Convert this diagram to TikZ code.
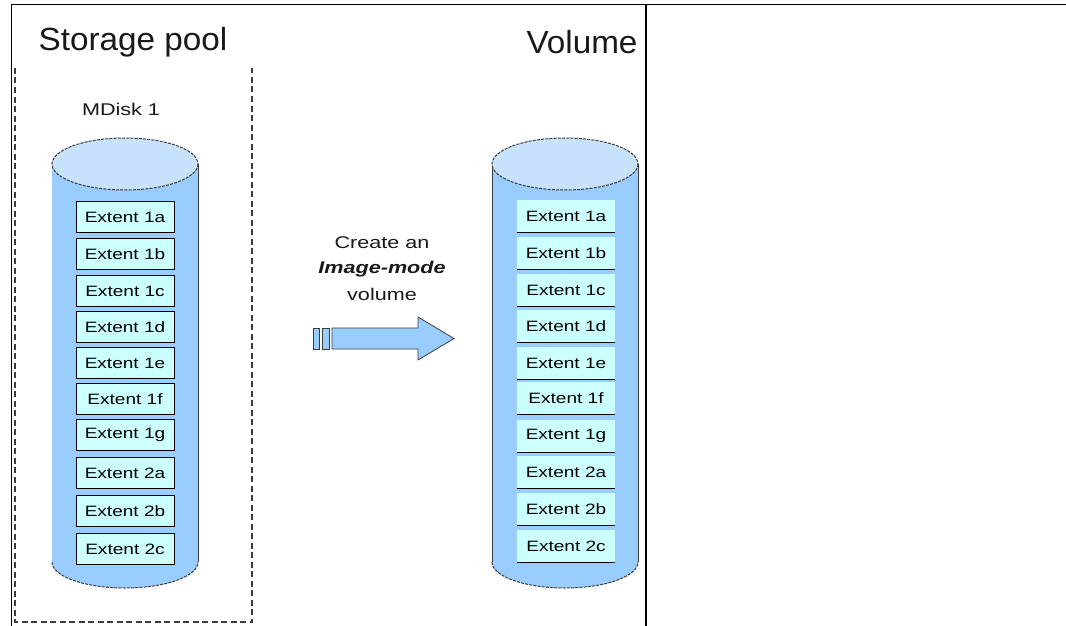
\documentclass[tikz,border=0pt]{standalone}
\usepackage{fontspec}
\setmainfont{Liberation Sans}
\definecolor{cylblue}{RGB}{153,204,255}
\definecolor{cyltop}{RGB}{200,226,252}
\definecolor{extcyan}{RGB}{204,255,255}
\definecolor{inkgray}{RGB}{60,60,60}
\newcommand\widetext[1]{\scalebox{1.27}[1]{#1}}
% cylinder: centre x, y of top rim, y of bottom rim, draw left side (1/0)
\newcommand\drawcylinder[4]{%
  \fill[cylblue] ({#1-73},#2) -- ({#1-73},#3)
     arc[start angle=180,end angle=0,x radius=73,y radius=26] -- ({#1+73},#2) -- cycle;
  \draw[cylside] ({#1+73},#2) -- ({#1+73},#3);
  \ifnum#4=1 \draw[cylside] ({#1-73},#2) -- ({#1-73},#3);\fi
  \draw[cylrim] ({#1-73},#3) arc[start angle=180,end angle=0,x radius=73,y radius=26];
  \filldraw[cylrim,fill=cyltop] (#1,#2) ellipse[x radius=73,y radius=26];
}
\tikzset{
  frame/.style={line width=1.3pt,black},
  pool/.style={line width=1.2pt,inkgray,dash pattern=on 6pt off 3.5pt},
  cylside/.style={line width=0.9pt,inkgray},
  cylrim/.style={line width=1pt,inkgray,dash pattern=on 3pt off 1.2pt},
  heading/.style={font=\fontsize{32}{32}\selectfont,text=black!90,inner sep=0pt},
  smalltext/.style={font=\fontsize{17}{17}\selectfont,text=black!90,inner sep=0pt},
  extL/.style={draw=black,line width=0.9pt,fill=extcyan,minimum width=98pt,
    minimum height=31pt,inner sep=0pt,font=\fontsize{15}{15}\selectfont},
  extR/.style={fill=extcyan,minimum width=98pt,minimum height=32pt,inner sep=0pt,
    font=\fontsize{15}{15}\selectfont},
  sepline/.style={line width=1pt,black},
  bigarrow/.style={fill=cylblue,draw=inkgray,line width=0.8pt,line join=miter},
}
\begin{document}
\begin{tikzpicture}[x=1pt,y=-1pt]
\useasboundingbox (0,0) rectangle (1066,626);
\fill[white] (0,0) rectangle (1066,626);

% outer frame and divider
\draw[frame] (11.5,626) -- (11.5,4.5) -- (1066,4.5);
\draw[frame] (646,4.5) -- (646,626);

% storage pool boundary (open at the top)
\draw[pool] (15,68) -- (15,622) -- (252,622) -- (252,68);

% headings
\node[heading] (pooltitle) at (133,42) {\scalebox{1.04}[1]{Storage pool}};
\node[heading] (voltitle) at (582,42) {\scalebox{1.04}[1]{Volume}};
\node[smalltext] (mdisk) at (121,109) {\widetext{MDisk 1}};

% cylinders
\drawcylinder{125}{164}{562}{0}
\drawcylinder{565}{164}{562}{1}

% extents of MDisk 1
\foreach \n/\lab/\y in {l1a/1a/217, l1b/1b/254, l1c/1c/291, l1d/1d/327, l1e/1e/363,
                        l1f/1f/399, l1g/1g/435, l2a/2a/473, l2b/2b/511, l2c/2c/549}
  \node[extL] (\n) at (125,\y) {\widetext{Extent \lab}};

% extents of the image-mode volume
\foreach \n/\lab/\y in {r1a/1a/216, r1b/1b/253, r1c/1c/290, r1d/1d/326, r1e/1e/363,
                        r1f/1f/398, r1g/1g/436, r2a/2a/472, r2b/2b/509, r2c/2c/546}{
  \node[extR] (\n) at (566,\y) {\widetext{Extent \lab}};
  \draw[sepline] (\n.south west) -- (\n.south east);
}

% caption
\node[smalltext] (cap1) at (382,243) {\widetext{Create an}};
\node[smalltext] (cap2) at (382,269) {\widetext{\textbf{\textit{Image-mode}}}};
\node[smalltext] (cap3) at (382,294) {\widetext{volume}};

% block arrow with tail bars
\draw[bigarrow] (313,328) rectangle (319.5,349);
\draw[bigarrow] (322,328) rectangle (329,349);
\draw[bigarrow] (332,328) -- (418,328) -- (418,317) -- (454,338.5)
   -- (418,360) -- (418,349) -- (332,349) -- cycle;
\end{tikzpicture}
\end{document}
